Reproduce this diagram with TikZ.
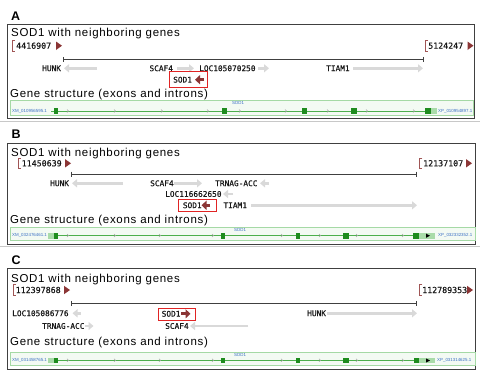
\documentclass[tikz,border=0pt]{standalone}
\usepackage{fontspec}
\setmainfont{Liberation Sans}
\newfontfamily\titlefont[LetterSpace=6]{Liberation Sans}
\newfontfamily\monof[FakeBold=0.6]{DejaVu Sans Mono}
\usetikzlibrary{arrows.meta}
\definecolor{sodred}{HTML}{8B3535}
\definecolor{brkred}{HTML}{A05555}
\definecolor{exgreen}{HTML}{1E8C1E}
\definecolor{utrgreen}{HTML}{A9DBA9}
\definecolor{barborder}{HTML}{A5D9A5}
\definecolor{barfill}{HTML}{F3FAF3}
\definecolor{linegreen}{HTML}{4CAF4C}
\definecolor{genegray}{HTML}{D9D9D9}
\definecolor{labelblue}{HTML}{3A6FC4}
\definecolor{boxgray}{HTML}{404040}
\definecolor{sepgray}{HTML}{C8C8C8}
\definecolor{redbox}{HTML}{E02424}
\tikzset{
  panel/.style={anchor=base west, inner sep=0, font=\bfseries\fontsize{12.5}{14}\selectfont},
  ptitle/.style={anchor=base west, inner sep=0, font=\titlefont\fontsize{11.5}{13}\selectfont},
  gene/.style={anchor=west, inner sep=0, font=\monof\fontsize{7.8}{9}\selectfont, text=black!90},
  coordtxt/.style={anchor=west, inner sep=0, font=\monof\fontsize{8.3}{9}\selectfont, text=black!90},
  smallblue/.style={anchor=west, inner sep=0, font=\fontsize{4.4}{5}\selectfont, text=labelblue},
  garrow/.style={draw=genegray, line width=2.5pt, -{Triangle[length=5pt,width=8pt]}},
  sodarrow/.style={draw=sodred, line width=3pt, -{Triangle[length=5pt,width=9pt]}},
  boxframe/.style={draw=boxgray, line width=1pt},
  sepline/.style={draw=sepgray, line width=1pt},
  brk/.style={draw=brkred, line width=0.9pt},
  tri/.style={fill=sodred},
  ruler/.style={draw=black!75, line width=0.9pt},
  redframe/.style={draw=redbox, line width=1pt, fill=white},
  bar/.style={draw=barborder, fill=barfill, line width=1pt},
  gline/.style={draw=linegreen, line width=1pt},
  exon/.style={fill=exgreen},
  utr/.style={fill=utrgreen},
  chev/.style={draw=gray!70, line width=0.5pt}
}
\begin{document}
\begin{tikzpicture}[x=1pt,y=-1pt]
\useasboundingbox (0,0) rectangle (480,372);
\fill[white] (0,0) rectangle (480,372);

% separators
\draw[sepline] (0,121.5) -- (480,121.5);
\draw[sepline] (0,246.5) -- (480,246.5);

%%%%%%%%%%%%%%%% Panel A
\node[panel] (la) at (11,20) {A};
\draw[boxframe] (7,24) rectangle (474,118);
\node[ptitle] (ta) at (11,36.5) {SOD1 with neighboring genes};
\draw[brk] (15,40.4) -- (12,40.4) -- (12,51) -- (15,51);
\node[coordtxt] (a-start) at (16,45.7) {4416907};
\fill[tri] (56,41.5) -- (62,45.7) -- (56,50) -- cycle;
\draw[brk] (428,40.4) -- (425,40.4) -- (425,51) -- (428,51);
\node[coordtxt] (a-end) at (428,45.7) {5124247};
\fill[tri] (467.5,41.5) -- (473.5,45.7) -- (467.5,50) -- cycle;
\coordinate (a-r1) at (63.3,59.3);
\coordinate (a-r2) at (423.3,59.3);
\draw[ruler] (a-r1) -- (a-r2);
\draw[ruler] (63.3,56.8) -- (63.3,61.8);
\draw[ruler] (423.3,56.8) -- (423.3,61.8);
% genes
\node[gene] (a-hunk) at (42,68.3) {HUNK};
\draw[garrow] (97,68.3) -- (64,68.3);
\node[gene] (a-scaf) at (149.3,68.3) {SCAF4};
\draw[garrow] (177,68.3) -- (194,68.3);
\node[gene] (a-loc) at (199,68.3) {LOC105070250};
\draw[garrow] (258,68.3) -- (269,68.3);
\node[gene] (a-tiam) at (326,68.3) {TIAM1};
\draw[garrow] (353,68.3) -- (423,68.3);
\draw[redframe] (169.5,71.7) rectangle (207.3,87.3);
\node[gene] (a-sod) at (173,79.7) {SOD1};
\draw[sodarrow] (204,79.7) -- (195,79.7);
% gene structure
\node[ptitle] (ga) at (10,97.7) {Gene structure (exons and introns)};
\draw[bar] (10,100) rectangle (473,115);
\node[smallblue, anchor=center] (a-bl) at (238,103) {SOD1};
\node[smallblue] (a-xm) at (12,111) {XM\_010956595.1};
\node[smallblue] (a-xp) at (438,111) {XP\_010954897.1};
\draw[gline] (51,111) -- (431,111);
\foreach \x in {68,115,162,208,240,286,328,367,414}
  \draw[chev] (\x-1,109.5) -- (\x+0.6,111) -- (\x-1,112.5);
\foreach \a/\b in {54.3/58.3,221.7/226.7,302/306.5,351/357,425/430.5}
  \fill[exon] (\a,108.3) rectangle (\b,114);
\fill[utr] (430.5,108.3) rectangle (437,114);

%%%%%%%%%%%%%%%% Panel B
\node[panel] (lb) at (11.5,138.5) {B};
\draw[boxframe] (7,143) rectangle (475,244);
\node[ptitle] (tb) at (11,156.5) {SOD1 with neighboring genes};
\draw[brk] (21,158) -- (18,158) -- (18,168.6) -- (21,168.6);
\node[coordtxt] (b-start) at (21.5,163.3) {11450639};
\fill[tri] (65,159.1) -- (71,163.3) -- (65,167.5) -- cycle;
\draw[brk] (422.3,158) -- (419.3,158) -- (419.3,168.6) -- (422.3,168.6);
\node[coordtxt] (b-end) at (423,163.3) {12137107};
\fill[tri] (466,159.1) -- (472,163.3) -- (466,167.5) -- cycle;
\coordinate (b-r1) at (71.7,174);
\coordinate (b-r2) at (416.7,174);
\draw[ruler] (b-r1) -- (b-r2);
\draw[ruler] (71.7,171.5) -- (71.7,176.5);
\draw[ruler] (416.7,171.5) -- (416.7,176.5);
\node[gene] (b-hunk) at (50,183.3) {HUNK};
\draw[garrow] (123,183.3) -- (72,183.3);
\node[gene] (b-scaf) at (150,183.3) {SCAF4};
\draw[garrow] (174,183.3) -- (202,183.3);
\node[gene] (b-trn) at (215,183.3) {TRNAG-ACC};
\draw[garrow] (268.5,183.3) -- (260,183.3);
\node[gene] (b-loc) at (165,194) {LOC116662650};
\draw[garrow] (233,194) -- (223,194);
\draw[redframe] (178.3,199) rectangle (216,211.7);
\node[gene] (b-sod) at (182.7,205.3) {SOD1};
\draw[sodarrow] (210,205.3) -- (201.5,205.3);
\node[gene] (b-tiam) at (223.3,205.3) {TIAM1};
\draw[garrow] (251,205.3) -- (417,205.3);
\node[ptitle] (gb) at (10,223.3) {Gene structure (exons and introns)};
\draw[bar] (10,227) rectangle (475,240);
\node[smallblue, anchor=center] (b-bl) at (240,229.8) {SOD1};
\node[smallblue] (b-xm) at (12,235.5) {XM\_032476461.1};
\node[smallblue] (b-xp) at (438,235.5) {XP\_032332352.1};
\draw[gline] (49,235.5) -- (420,235.5);
\foreach \x in {68,115,160,213,282,320,357,403}
  \draw[chev] (\x-1,234) -- (\x+0.6,235.5) -- (\x-1,237);
\fill[utr] (48,233) rectangle (54,238.5);
\foreach \a/\b in {54/58,220.5/225,296/300,343.3/349.3,413.3/419.3}
  \fill[exon] (\a,232.7) rectangle (\b,238.5);
\fill[utr] (419.3,233) rectangle (435,238.5);
\fill[black] (426,233.6) -- (430,235.7) -- (426,237.8) -- cycle;

%%%%%%%%%%%%%%%% Panel C
\node[panel] (lc) at (11.5,264.5) {C};
\draw[boxframe] (7,268.3) rectangle (475,369);
\node[ptitle] (tc) at (11,282) {SOD1 with neighboring genes};
\draw[brk] (16,284.7) -- (13,284.7) -- (13,295.3) -- (16,295.3);
\node[coordtxt] (c-start) at (15.5,290) {112397868};
\fill[tri] (64,285.8) -- (70,290) -- (64,294.2) -- cycle;
\draw[brk] (422.3,284.7) -- (419.3,284.7) -- (419.3,295.3) -- (422.3,295.3);
\node[coordtxt] (c-end) at (422,290) {112789353};
\fill[tri] (467,285.8) -- (473,290) -- (467,294.2) -- cycle;
\coordinate (c-r1) at (71.7,303.3);
\coordinate (c-r2) at (416.7,303.3);
\draw[ruler] (c-r1) -- (c-r2);
\draw[ruler] (71.7,300.8) -- (71.7,305.8);
\draw[ruler] (416.7,300.8) -- (416.7,305.8);
\node[gene] (c-loc) at (12,313.3) {LOC105086776};
\draw[garrow] (80.5,313.3) -- (72.5,313.3);
\draw[redframe] (158.3,308.3) rectangle (195,320);
\node[gene] (c-sod) at (161.5,313.8) {SOD1};
\draw[sodarrow] (181,313.8) -- (190.5,313.8);
\node[gene] (c-hunk) at (307,313.3) {HUNK};
\draw[garrow] (327,313.3) -- (417,313.3);
\node[gene] (c-trn) at (42,326) {TRNAG-ACC};
\draw[garrow] (85,326) -- (93.5,326);
\node[gene] (c-scaf) at (165,326) {SCAF4};
\draw[garrow] (248,326) -- (190,326);
\node[ptitle] (gc) at (10,345.7) {Gene structure (exons and introns)};
\draw[bar] (10,352) rectangle (475,365);
\node[smallblue, anchor=center] (c-bl) at (240,354.8) {SOD1};
\node[smallblue] (c-xm) at (12,360.3) {XM\_031458765.1};
\node[smallblue] (c-xp) at (437,360.3) {XP\_031314625.1};
\draw[gline] (49,360.3) -- (420,360.3);
\foreach \x in {68,115,160,213,282,320,357,403}
  \draw[chev] (\x-1,358.8) -- (\x+0.6,360.3) -- (\x-1,361.8);
\fill[utr] (48,357.8) rectangle (54,363.3);
\foreach \a/\b in {54/58,220.5/225,296/300,343.3/348.8,413.5/419.3}
  \fill[exon] (\a,357.5) rectangle (\b,363.3);
\fill[utr] (419.3,357.8) rectangle (435,363.3);
\fill[black] (426,358.4) -- (430,360.5) -- (426,362.6) -- cycle;
\end{tikzpicture}
\end{document}
